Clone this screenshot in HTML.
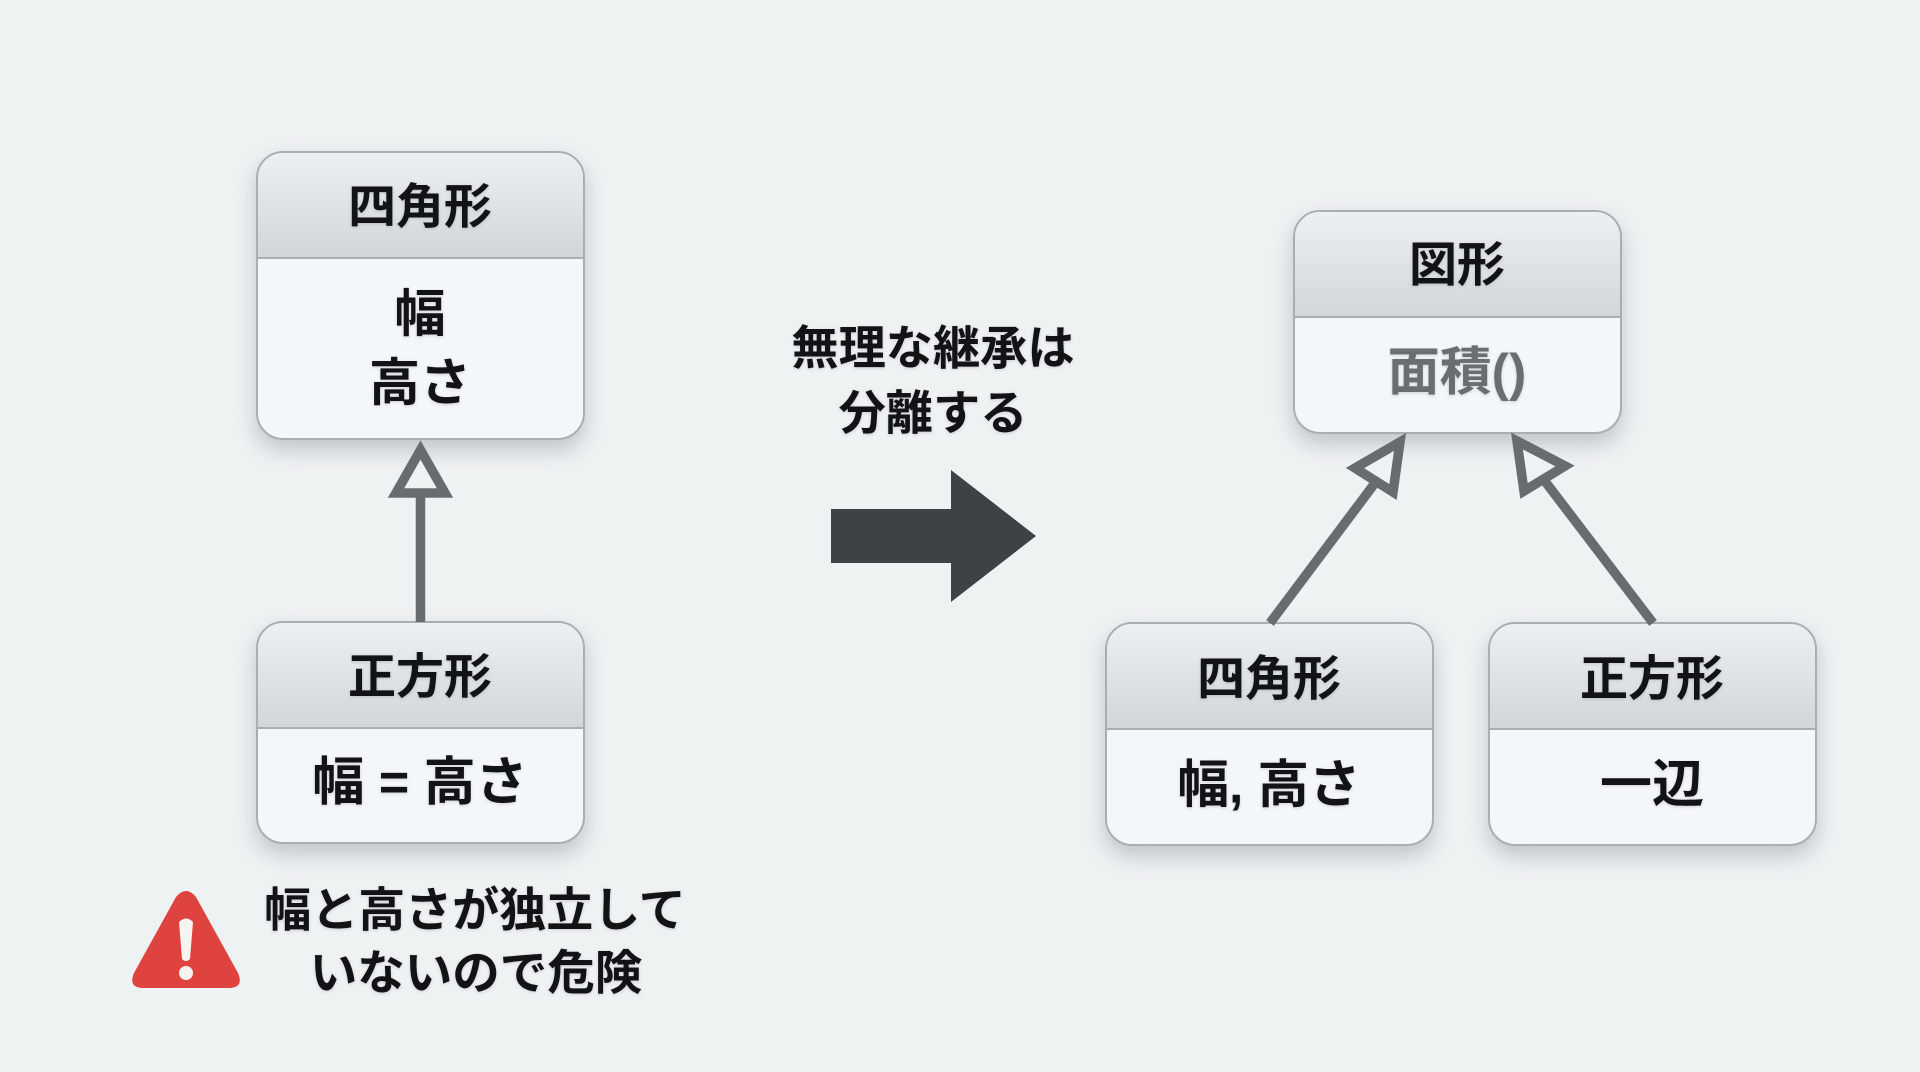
<!DOCTYPE html>
<html lang="ja"><head><meta charset="utf-8"><style>
html,body{margin:0;padding:0}
body{width:1920px;height:1072px;position:relative;overflow:hidden;background:#eff2f3;font-family:"Liberation Sans","Noto Sans CJK JP",sans-serif;color:#121314;font-weight:700}
.box{position:absolute;box-sizing:border-box;border:2.5px solid #a9aeb3;border-radius:27px;background:#f4f7f9;box-shadow:0 10px 22px rgba(90,100,110,.32);overflow:hidden}
.head{position:absolute;left:0;right:0;top:0;box-sizing:border-box;border-bottom:2.5px solid #a9aeb3;background:linear-gradient(#edf0f2,#d1d6da);text-align:center;font-size:46px}
.t{position:absolute;white-space:nowrap;transform:translate(-50%,-50%);line-height:1;text-align:center;text-shadow:0 1px 3px rgba(90,100,110,.25)}
svg{position:absolute;left:0;top:0}
</style></head><body>
<div class="box" style="left:256px;top:151px;width:329px;height:289px"><div class="head" style="height:106px"></div></div>
<div class="box" style="left:256px;top:621px;width:329px;height:223px"><div class="head" style="height:106px"></div></div>
<div class="box" style="left:1293px;top:210px;width:329px;height:224px"><div class="head" style="height:106px"></div></div>
<div class="box" style="left:1105px;top:622px;width:329px;height:224px"><div class="head" style="height:106px"></div></div>
<div class="box" style="left:1488px;top:622px;width:329px;height:224px"><div class="head" style="height:106px"></div></div>
<svg width="1920" height="1072" viewBox="0 0 1920 1072">
<g stroke="#676c71" stroke-width="9.500" fill="none">
<line x1="420.500" y1="622" x2="420.500" y2="495"/>
<polygon points="420.500,450 445,493 396,493" fill="#eff2f3" stroke-width="9.500" stroke-linejoin="miter"/>
<line x1="1270" y1="623" x2="1375" y2="483"/>
<polygon points="1400,442 1393,492 1355,468" fill="#eff2f3" stroke-width="9.500"/>
<line x1="1653" y1="623" x2="1544" y2="480"/>
<polygon points="1517,441 1524,491 1565,466" fill="#eff2f3" stroke-width="9.500"/>
</g>
<polygon points="831,509 951,509 951,470 1036,536 951,602 951,563 831,563" fill="#3f4245"/>
<path d="M176 897 Q186 885 196 897 L238 973 Q244 987 230 988 L142 988 Q128 987 134 973 Z" fill="#de4340"/>
<path d="M179 922 Q186 915 193 922 L190 959 Q186 963 182 959 Z" fill="#f7f3f1"/>
<circle cx="186" cy="973" r="7" fill="#f7f3f1"/>
</svg>
<div class="t" style="left:420px;top:208px;font-size:48px">四角形</div>
<div class="t" style="left:420px;top:314px;font-size:51px">幅</div>
<div class="t" style="left:420px;top:383px;font-size:51px">高さ</div>
<div class="t" style="left:420px;top:678px;font-size:48px">正方形</div>
<div class="t" style="left:420px;top:783px;font-size:52px">幅 = 高さ</div>
<div class="t" style="left:1457px;top:266px;font-size:48px">図形</div>
<div class="t" style="left:1457px;top:373px;font-size:52px;color:#6a6e72">面積()</div>
<div class="t" style="left:1269px;top:680px;font-size:48px">四角形</div>
<div class="t" style="left:1269px;top:785px;font-size:51.500px">幅, 高さ</div>
<div class="t" style="left:1652px;top:680px;font-size:48px">正方形</div>
<div class="t" style="left:1652px;top:785px;font-size:52px">一辺</div>
<div class="t" style="left:933px;top:349px;font-size:47.200px">無理な継承は</div>
<div class="t" style="left:933px;top:414px;font-size:47.200px">分離する</div>
<div class="t" style="left:475px;top:910px;font-size:47px">幅と高さが独立して</div>
<div class="t" style="left:476px;top:974px;font-size:47.500px">いないので危険</div>
</body></html>
